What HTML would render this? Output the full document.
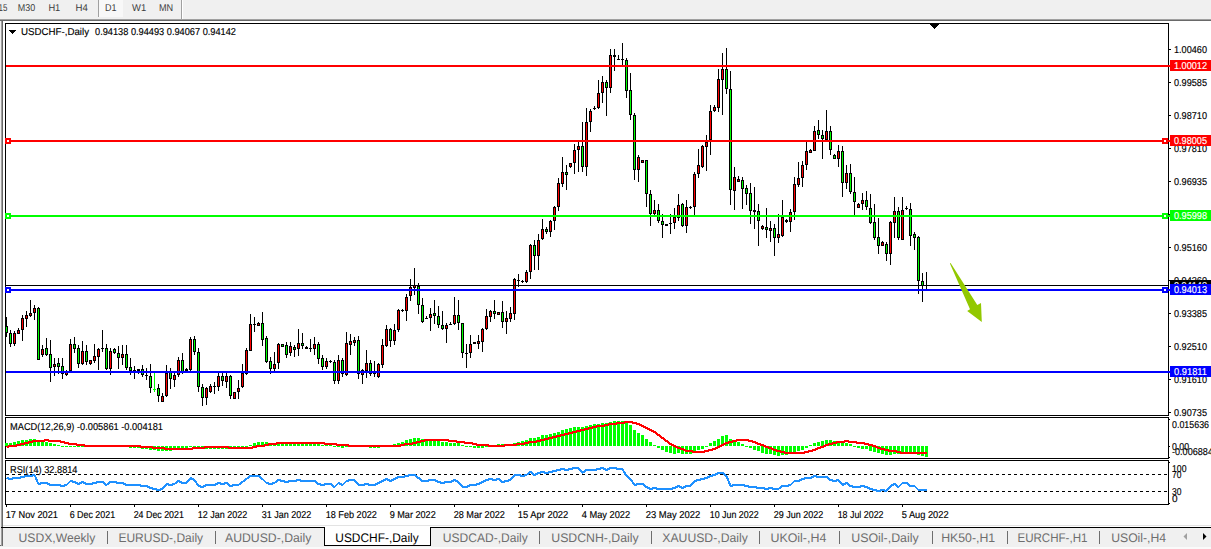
<!DOCTYPE html>
<html><head><meta charset="utf-8"><title>USDCHF Daily</title>
<style>
html,body{margin:0;padding:0;background:#fff;overflow:hidden}
svg{display:block;font-family:"Liberation Sans",sans-serif}
</style></head><body>
<svg width="1211" height="549" viewBox="0 0 1211 549" shape-rendering="crispEdges" text-rendering="geometricPrecision">
<rect x="0" y="0" width="1211" height="549" fill="#ffffff"/>
<rect x="0" y="0" width="1211" height="19" fill="#f0f0f0"/>
<rect x="0" y="19" width="1211" height="1" fill="#a0a0a0"/>
<rect x="0" y="20" width="1211" height="1" fill="#696969"/>
<rect x="99" y="0" width="24" height="17" fill="#f8f8f8"/>
<rect x="98" y="0" width="1" height="17" fill="#a0a0a0"/>
<rect x="181" y="0" width="1" height="19" fill="#a0a0a0"/>
<rect x="182" y="0" width="1" height="19" fill="#ffffff"/>
<text x="-1.5" y="11" font-size="10" fill="#3c3c3c" textLength="8.8" lengthAdjust="spacingAndGlyphs">15</text>
<text x="17.8" y="11" font-size="10" fill="#3c3c3c" textLength="17.4" lengthAdjust="spacingAndGlyphs">M30</text>
<text x="48.4" y="11" font-size="10" fill="#3c3c3c" textLength="11.9" lengthAdjust="spacingAndGlyphs">H1</text>
<text x="75.6" y="11" font-size="10" fill="#3c3c3c" textLength="12.3" lengthAdjust="spacingAndGlyphs">H4</text>
<text x="104.9" y="11" font-size="10" fill="#3c3c3c" textLength="11.5" lengthAdjust="spacingAndGlyphs">D1</text>
<text x="132.1" y="11" font-size="10" fill="#3c3c3c" textLength="14.1" lengthAdjust="spacingAndGlyphs">W1</text>
<text x="158.9" y="11" font-size="10" fill="#3c3c3c" textLength="14.2" lengthAdjust="spacingAndGlyphs">MN</text>
<rect x="0" y="21" width="1" height="525" fill="#f0f0f0"/>
<rect x="1" y="21" width="1" height="525" fill="#a0a0a0"/>
<rect x="2" y="21" width="1" height="525" fill="#696969"/>
<rect x="5" y="23" width="1164" height="1" fill="#000"/>
<rect x="5" y="415" width="1164" height="1" fill="#000"/>
<rect x="5" y="23" width="1" height="393" fill="#000"/>
<rect x="1168" y="23" width="1" height="393" fill="#000"/>
<rect x="5" y="417" width="1164" height="1" fill="#000"/>
<rect x="5" y="458" width="1164" height="1" fill="#000"/>
<rect x="5" y="417" width="1" height="42" fill="#000"/>
<rect x="1168" y="417" width="1" height="42" fill="#000"/>
<rect x="5" y="460" width="1164" height="1" fill="#000"/>
<rect x="5" y="504" width="1164" height="1" fill="#000"/>
<rect x="5" y="460" width="1" height="45" fill="#000"/>
<rect x="1168" y="460" width="1" height="45" fill="#000"/>
<rect x="6" y="317" width="1" height="20" fill="#000"/>
<rect x="5" y="326" width="3" height="7" fill="#000"/>
<rect x="6" y="327" width="1" height="5" fill="#00ff00"/>
<rect x="10" y="330" width="1" height="17" fill="#000"/>
<rect x="9" y="333" width="3" height="11" fill="#000"/>
<rect x="10" y="334" width="1" height="9" fill="#00ff00"/>
<rect x="14" y="331" width="1" height="15" fill="#000"/>
<rect x="13" y="333" width="3" height="11" fill="#000"/>
<rect x="14" y="334" width="1" height="9" fill="#ff0000"/>
<rect x="18" y="328" width="1" height="6" fill="#000"/>
<rect x="17" y="330" width="3" height="4" fill="#000"/>
<rect x="18" y="331" width="1" height="2" fill="#ff0000"/>
<rect x="22" y="315" width="1" height="26" fill="#000"/>
<rect x="21" y="318" width="3" height="12" fill="#000"/>
<rect x="22" y="319" width="1" height="10" fill="#ff0000"/>
<rect x="26" y="311" width="1" height="16" fill="#000"/>
<rect x="25" y="315" width="3" height="4" fill="#000"/>
<rect x="26" y="316" width="1" height="2" fill="#ff0000"/>
<rect x="30" y="300" width="1" height="17" fill="#000"/>
<rect x="29" y="313" width="3" height="3" fill="#000"/>
<rect x="30" y="314" width="1" height="1" fill="#ff0000"/>
<rect x="34" y="305" width="1" height="15" fill="#000"/>
<rect x="33" y="308" width="3" height="5" fill="#000"/>
<rect x="34" y="309" width="1" height="3" fill="#ff0000"/>
<rect x="38" y="307" width="1" height="53" fill="#000"/>
<rect x="37" y="308" width="3" height="52" fill="#000"/>
<rect x="38" y="309" width="1" height="50" fill="#00ff00"/>
<rect x="42" y="345" width="1" height="12" fill="#000"/>
<rect x="41" y="349" width="3" height="6" fill="#000"/>
<rect x="42" y="350" width="1" height="4" fill="#ff0000"/>
<rect x="46" y="338" width="1" height="18" fill="#000"/>
<rect x="45" y="348" width="3" height="7" fill="#000"/>
<rect x="46" y="349" width="1" height="5" fill="#00ff00"/>
<rect x="50" y="340" width="1" height="42" fill="#000"/>
<rect x="49" y="354" width="3" height="14" fill="#000"/>
<rect x="50" y="355" width="1" height="12" fill="#00ff00"/>
<rect x="54" y="358" width="1" height="18" fill="#000"/>
<rect x="53" y="364" width="3" height="3" fill="#000"/>
<rect x="54" y="365" width="1" height="1" fill="#ff0000"/>
<rect x="58" y="358" width="1" height="16" fill="#000"/>
<rect x="57" y="363" width="3" height="4" fill="#000"/>
<rect x="58" y="364" width="1" height="2" fill="#00ff00"/>
<rect x="62" y="358" width="1" height="21" fill="#000"/>
<rect x="61" y="366" width="3" height="8" fill="#000"/>
<rect x="62" y="367" width="1" height="6" fill="#00ff00"/>
<rect x="66" y="370" width="1" height="6" fill="#000"/>
<rect x="65" y="371" width="3" height="4" fill="#000"/>
<rect x="66" y="372" width="1" height="2" fill="#ff0000"/>
<rect x="70" y="339" width="1" height="32" fill="#000"/>
<rect x="69" y="344" width="3" height="27" fill="#000"/>
<rect x="70" y="345" width="1" height="25" fill="#ff0000"/>
<rect x="74" y="337" width="1" height="16" fill="#000"/>
<rect x="73" y="344" width="3" height="5" fill="#000"/>
<rect x="74" y="345" width="1" height="3" fill="#00ff00"/>
<rect x="78" y="345" width="1" height="23" fill="#000"/>
<rect x="77" y="348" width="3" height="16" fill="#000"/>
<rect x="78" y="349" width="1" height="14" fill="#00ff00"/>
<rect x="82" y="341" width="1" height="24" fill="#000"/>
<rect x="81" y="351" width="3" height="13" fill="#000"/>
<rect x="82" y="352" width="1" height="11" fill="#ff0000"/>
<rect x="86" y="345" width="1" height="20" fill="#000"/>
<rect x="85" y="351" width="3" height="11" fill="#000"/>
<rect x="86" y="352" width="1" height="9" fill="#00ff00"/>
<rect x="90" y="360" width="1" height="5" fill="#000"/>
<rect x="89" y="360" width="3" height="4" fill="#000"/>
<rect x="90" y="361" width="1" height="2" fill="#ff0000"/>
<rect x="94" y="344" width="1" height="19" fill="#000"/>
<rect x="93" y="356" width="3" height="5" fill="#000"/>
<rect x="94" y="357" width="1" height="3" fill="#ff0000"/>
<rect x="98" y="348" width="1" height="22" fill="#000"/>
<rect x="97" y="349" width="3" height="8" fill="#000"/>
<rect x="98" y="350" width="1" height="6" fill="#ff0000"/>
<rect x="102" y="330" width="1" height="22" fill="#000"/>
<rect x="101" y="348" width="3" height="1" fill="#000"/>
<rect x="106" y="344" width="1" height="26" fill="#000"/>
<rect x="105" y="348" width="3" height="21" fill="#000"/>
<rect x="106" y="349" width="1" height="19" fill="#00ff00"/>
<rect x="110" y="348" width="1" height="27" fill="#000"/>
<rect x="109" y="351" width="3" height="18" fill="#000"/>
<rect x="110" y="352" width="1" height="16" fill="#ff0000"/>
<rect x="114" y="348" width="1" height="6" fill="#000"/>
<rect x="113" y="349" width="3" height="4" fill="#000"/>
<rect x="114" y="350" width="1" height="2" fill="#00ff00"/>
<rect x="118" y="346" width="1" height="23" fill="#000"/>
<rect x="117" y="353" width="3" height="5" fill="#000"/>
<rect x="118" y="354" width="1" height="3" fill="#00ff00"/>
<rect x="122" y="345" width="1" height="20" fill="#000"/>
<rect x="121" y="354" width="3" height="4" fill="#000"/>
<rect x="122" y="355" width="1" height="2" fill="#ff0000"/>
<rect x="126" y="345" width="1" height="25" fill="#000"/>
<rect x="125" y="354" width="3" height="14" fill="#000"/>
<rect x="126" y="355" width="1" height="12" fill="#00ff00"/>
<rect x="130" y="358" width="1" height="17" fill="#000"/>
<rect x="129" y="367" width="3" height="4" fill="#000"/>
<rect x="130" y="368" width="1" height="2" fill="#00ff00"/>
<rect x="134" y="366" width="1" height="13" fill="#000"/>
<rect x="133" y="370" width="3" height="1" fill="#000"/>
<rect x="138" y="369" width="1" height="5" fill="#000"/>
<rect x="137" y="369" width="3" height="2" fill="#000"/>
<rect x="142" y="365" width="1" height="12" fill="#000"/>
<rect x="141" y="369" width="3" height="6" fill="#000"/>
<rect x="142" y="370" width="1" height="4" fill="#00ff00"/>
<rect x="146" y="368" width="1" height="12" fill="#000"/>
<rect x="145" y="375" width="3" height="1" fill="#000"/>
<rect x="150" y="364" width="1" height="29" fill="#000"/>
<rect x="149" y="376" width="3" height="12" fill="#000"/>
<rect x="150" y="377" width="1" height="10" fill="#00ff00"/>
<rect x="154" y="373" width="1" height="19" fill="#00ff00"/>
<rect x="153" y="389" width="3" height="1" fill="#00ff00"/>
<rect x="158" y="384" width="1" height="18" fill="#000"/>
<rect x="157" y="388" width="3" height="8" fill="#000"/>
<rect x="158" y="389" width="1" height="6" fill="#00ff00"/>
<rect x="162" y="393" width="1" height="9" fill="#000"/>
<rect x="161" y="396" width="3" height="6" fill="#000"/>
<rect x="162" y="397" width="1" height="4" fill="#ff0000"/>
<rect x="166" y="365" width="1" height="32" fill="#000"/>
<rect x="165" y="373" width="3" height="23" fill="#000"/>
<rect x="166" y="374" width="1" height="21" fill="#ff0000"/>
<rect x="170" y="368" width="1" height="21" fill="#000"/>
<rect x="169" y="372" width="3" height="7" fill="#000"/>
<rect x="170" y="373" width="1" height="5" fill="#00ff00"/>
<rect x="174" y="372" width="1" height="15" fill="#000"/>
<rect x="173" y="375" width="3" height="5" fill="#000"/>
<rect x="174" y="376" width="1" height="3" fill="#ff0000"/>
<rect x="178" y="357" width="1" height="20" fill="#000"/>
<rect x="177" y="360" width="3" height="15" fill="#000"/>
<rect x="178" y="361" width="1" height="13" fill="#ff0000"/>
<rect x="182" y="353" width="1" height="21" fill="#000"/>
<rect x="181" y="360" width="3" height="12" fill="#000"/>
<rect x="182" y="361" width="1" height="10" fill="#00ff00"/>
<rect x="186" y="368" width="1" height="4" fill="#000"/>
<rect x="185" y="369" width="3" height="2" fill="#000"/>
<rect x="190" y="337" width="1" height="34" fill="#000"/>
<rect x="189" y="339" width="3" height="31" fill="#000"/>
<rect x="190" y="340" width="1" height="29" fill="#ff0000"/>
<rect x="194" y="336" width="1" height="19" fill="#000"/>
<rect x="193" y="339" width="3" height="13" fill="#000"/>
<rect x="194" y="340" width="1" height="11" fill="#00ff00"/>
<rect x="198" y="348" width="1" height="44" fill="#000"/>
<rect x="197" y="352" width="3" height="35" fill="#000"/>
<rect x="198" y="353" width="1" height="33" fill="#00ff00"/>
<rect x="202" y="384" width="1" height="22" fill="#000"/>
<rect x="201" y="387" width="3" height="11" fill="#000"/>
<rect x="202" y="388" width="1" height="9" fill="#00ff00"/>
<rect x="206" y="387" width="1" height="18" fill="#000"/>
<rect x="205" y="388" width="3" height="10" fill="#000"/>
<rect x="206" y="389" width="1" height="8" fill="#ff0000"/>
<rect x="210" y="384" width="1" height="9" fill="#000"/>
<rect x="209" y="386" width="3" height="6" fill="#000"/>
<rect x="210" y="387" width="1" height="4" fill="#ff0000"/>
<rect x="214" y="382" width="1" height="12" fill="#000"/>
<rect x="213" y="386" width="3" height="1" fill="#000"/>
<rect x="218" y="372" width="1" height="19" fill="#000"/>
<rect x="217" y="376" width="3" height="11" fill="#000"/>
<rect x="218" y="377" width="1" height="9" fill="#ff0000"/>
<rect x="222" y="373" width="1" height="13" fill="#000"/>
<rect x="221" y="376" width="3" height="5" fill="#000"/>
<rect x="222" y="377" width="1" height="3" fill="#00ff00"/>
<rect x="226" y="373" width="1" height="15" fill="#000"/>
<rect x="225" y="376" width="3" height="6" fill="#000"/>
<rect x="226" y="377" width="1" height="4" fill="#ff0000"/>
<rect x="230" y="375" width="1" height="24" fill="#000"/>
<rect x="229" y="376" width="3" height="20" fill="#000"/>
<rect x="230" y="377" width="1" height="18" fill="#00ff00"/>
<rect x="234" y="392" width="1" height="7" fill="#000"/>
<rect x="233" y="392" width="3" height="7" fill="#000"/>
<rect x="234" y="393" width="1" height="5" fill="#ff0000"/>
<rect x="238" y="380" width="1" height="19" fill="#000"/>
<rect x="237" y="388" width="3" height="4" fill="#000"/>
<rect x="238" y="389" width="1" height="2" fill="#ff0000"/>
<rect x="242" y="364" width="1" height="24" fill="#000"/>
<rect x="241" y="373" width="3" height="14" fill="#000"/>
<rect x="242" y="374" width="1" height="12" fill="#ff0000"/>
<rect x="246" y="348" width="1" height="27" fill="#000"/>
<rect x="245" y="350" width="3" height="24" fill="#000"/>
<rect x="246" y="351" width="1" height="22" fill="#ff0000"/>
<rect x="250" y="314" width="1" height="37" fill="#000"/>
<rect x="249" y="324" width="3" height="27" fill="#000"/>
<rect x="250" y="325" width="1" height="25" fill="#ff0000"/>
<rect x="254" y="317" width="1" height="15" fill="#000"/>
<rect x="253" y="324" width="3" height="1" fill="#000"/>
<rect x="258" y="322" width="1" height="4" fill="#000"/>
<rect x="257" y="323" width="3" height="3" fill="#000"/>
<rect x="258" y="324" width="1" height="1" fill="#ff0000"/>
<rect x="262" y="312" width="1" height="34" fill="#000"/>
<rect x="261" y="323" width="3" height="17" fill="#000"/>
<rect x="262" y="324" width="1" height="15" fill="#00ff00"/>
<rect x="266" y="336" width="1" height="27" fill="#000"/>
<rect x="265" y="338" width="3" height="24" fill="#000"/>
<rect x="266" y="339" width="1" height="22" fill="#00ff00"/>
<rect x="270" y="357" width="1" height="17" fill="#000"/>
<rect x="269" y="361" width="3" height="8" fill="#000"/>
<rect x="270" y="362" width="1" height="6" fill="#00ff00"/>
<rect x="274" y="352" width="1" height="21" fill="#000"/>
<rect x="273" y="364" width="3" height="5" fill="#000"/>
<rect x="274" y="365" width="1" height="3" fill="#ff0000"/>
<rect x="278" y="343" width="1" height="26" fill="#000"/>
<rect x="277" y="344" width="3" height="19" fill="#000"/>
<rect x="278" y="345" width="1" height="17" fill="#ff0000"/>
<rect x="282" y="344" width="1" height="3" fill="#000"/>
<rect x="281" y="344" width="3" height="3" fill="#000"/>
<rect x="282" y="345" width="1" height="1" fill="#00ff00"/>
<rect x="286" y="342" width="1" height="16" fill="#000"/>
<rect x="285" y="345" width="3" height="10" fill="#000"/>
<rect x="286" y="346" width="1" height="8" fill="#00ff00"/>
<rect x="290" y="342" width="1" height="14" fill="#000"/>
<rect x="289" y="346" width="3" height="7" fill="#000"/>
<rect x="290" y="347" width="1" height="5" fill="#ff0000"/>
<rect x="294" y="345" width="1" height="12" fill="#000"/>
<rect x="293" y="347" width="3" height="3" fill="#000"/>
<rect x="294" y="348" width="1" height="1" fill="#00ff00"/>
<rect x="298" y="329" width="1" height="27" fill="#000"/>
<rect x="297" y="343" width="3" height="6" fill="#000"/>
<rect x="298" y="344" width="1" height="4" fill="#ff0000"/>
<rect x="302" y="333" width="1" height="16" fill="#000"/>
<rect x="301" y="343" width="3" height="3" fill="#000"/>
<rect x="302" y="344" width="1" height="1" fill="#00ff00"/>
<rect x="306" y="346" width="1" height="3" fill="#000"/>
<rect x="305" y="347" width="3" height="2" fill="#000"/>
<rect x="310" y="339" width="1" height="13" fill="#000"/>
<rect x="309" y="348" width="3" height="1" fill="#000"/>
<rect x="314" y="337" width="1" height="18" fill="#000"/>
<rect x="313" y="344" width="3" height="5" fill="#000"/>
<rect x="314" y="345" width="1" height="3" fill="#ff0000"/>
<rect x="318" y="342" width="1" height="22" fill="#000"/>
<rect x="317" y="344" width="3" height="15" fill="#000"/>
<rect x="318" y="345" width="1" height="13" fill="#00ff00"/>
<rect x="322" y="355" width="1" height="15" fill="#000"/>
<rect x="321" y="358" width="3" height="9" fill="#000"/>
<rect x="322" y="359" width="1" height="7" fill="#00ff00"/>
<rect x="326" y="358" width="1" height="11" fill="#000"/>
<rect x="325" y="361" width="3" height="6" fill="#000"/>
<rect x="326" y="362" width="1" height="4" fill="#ff0000"/>
<rect x="330" y="360" width="1" height="3" fill="#000"/>
<rect x="329" y="361" width="3" height="1" fill="#000"/>
<rect x="334" y="360" width="1" height="24" fill="#000"/>
<rect x="333" y="362" width="3" height="19" fill="#000"/>
<rect x="334" y="363" width="1" height="17" fill="#00ff00"/>
<rect x="338" y="355" width="1" height="29" fill="#000"/>
<rect x="337" y="360" width="3" height="21" fill="#000"/>
<rect x="338" y="361" width="1" height="19" fill="#ff0000"/>
<rect x="342" y="358" width="1" height="19" fill="#000"/>
<rect x="341" y="360" width="3" height="14" fill="#000"/>
<rect x="342" y="361" width="1" height="12" fill="#00ff00"/>
<rect x="346" y="332" width="1" height="44" fill="#000"/>
<rect x="345" y="343" width="3" height="32" fill="#000"/>
<rect x="346" y="344" width="1" height="30" fill="#ff0000"/>
<rect x="350" y="334" width="1" height="21" fill="#000"/>
<rect x="349" y="341" width="3" height="4" fill="#000"/>
<rect x="350" y="342" width="1" height="2" fill="#ff0000"/>
<rect x="354" y="337" width="1" height="9" fill="#000"/>
<rect x="353" y="340" width="3" height="3" fill="#000"/>
<rect x="354" y="341" width="1" height="1" fill="#ff0000"/>
<rect x="358" y="336" width="1" height="43" fill="#000"/>
<rect x="357" y="340" width="3" height="34" fill="#000"/>
<rect x="358" y="341" width="1" height="32" fill="#00ff00"/>
<rect x="362" y="369" width="1" height="15" fill="#000"/>
<rect x="361" y="370" width="3" height="5" fill="#000"/>
<rect x="362" y="371" width="1" height="3" fill="#ff0000"/>
<rect x="366" y="350" width="1" height="28" fill="#000"/>
<rect x="365" y="363" width="3" height="8" fill="#000"/>
<rect x="366" y="364" width="1" height="6" fill="#ff0000"/>
<rect x="370" y="360" width="1" height="16" fill="#000"/>
<rect x="369" y="363" width="3" height="11" fill="#000"/>
<rect x="370" y="364" width="1" height="9" fill="#00ff00"/>
<rect x="374" y="361" width="1" height="16" fill="#000"/>
<rect x="373" y="373" width="3" height="1" fill="#000"/>
<rect x="378" y="363" width="1" height="15" fill="#000"/>
<rect x="377" y="364" width="3" height="13" fill="#000"/>
<rect x="378" y="365" width="1" height="11" fill="#ff0000"/>
<rect x="382" y="339" width="1" height="29" fill="#000"/>
<rect x="381" y="345" width="3" height="20" fill="#000"/>
<rect x="382" y="346" width="1" height="18" fill="#ff0000"/>
<rect x="386" y="325" width="1" height="22" fill="#000"/>
<rect x="385" y="329" width="3" height="17" fill="#000"/>
<rect x="386" y="330" width="1" height="15" fill="#ff0000"/>
<rect x="390" y="328" width="1" height="19" fill="#000"/>
<rect x="389" y="329" width="3" height="12" fill="#000"/>
<rect x="390" y="330" width="1" height="10" fill="#00ff00"/>
<rect x="394" y="324" width="1" height="21" fill="#000"/>
<rect x="393" y="330" width="3" height="11" fill="#000"/>
<rect x="394" y="331" width="1" height="9" fill="#ff0000"/>
<rect x="398" y="309" width="1" height="23" fill="#000"/>
<rect x="397" y="310" width="3" height="20" fill="#000"/>
<rect x="398" y="311" width="1" height="18" fill="#ff0000"/>
<rect x="402" y="309" width="1" height="3" fill="#000"/>
<rect x="401" y="310" width="3" height="1" fill="#000"/>
<rect x="406" y="294" width="1" height="27" fill="#000"/>
<rect x="405" y="297" width="3" height="14" fill="#000"/>
<rect x="406" y="298" width="1" height="12" fill="#ff0000"/>
<rect x="410" y="279" width="1" height="22" fill="#000"/>
<rect x="409" y="287" width="3" height="9" fill="#000"/>
<rect x="410" y="288" width="1" height="7" fill="#ff0000"/>
<rect x="414" y="268" width="1" height="27" fill="#000"/>
<rect x="413" y="285" width="3" height="3" fill="#000"/>
<rect x="414" y="286" width="1" height="1" fill="#ff0000"/>
<rect x="418" y="283" width="1" height="31" fill="#000"/>
<rect x="417" y="286" width="3" height="19" fill="#000"/>
<rect x="418" y="287" width="1" height="17" fill="#00ff00"/>
<rect x="422" y="298" width="1" height="25" fill="#000"/>
<rect x="421" y="305" width="3" height="17" fill="#000"/>
<rect x="422" y="306" width="1" height="15" fill="#00ff00"/>
<rect x="426" y="316" width="1" height="3" fill="#000"/>
<rect x="425" y="318" width="3" height="1" fill="#000"/>
<rect x="430" y="308" width="1" height="23" fill="#000"/>
<rect x="429" y="314" width="3" height="4" fill="#000"/>
<rect x="430" y="315" width="1" height="2" fill="#ff0000"/>
<rect x="434" y="300" width="1" height="24" fill="#000"/>
<rect x="433" y="313" width="3" height="3" fill="#000"/>
<rect x="434" y="314" width="1" height="1" fill="#00ff00"/>
<rect x="438" y="306" width="1" height="22" fill="#000"/>
<rect x="437" y="316" width="3" height="9" fill="#000"/>
<rect x="438" y="317" width="1" height="7" fill="#00ff00"/>
<rect x="442" y="311" width="1" height="19" fill="#000"/>
<rect x="441" y="325" width="3" height="4" fill="#000"/>
<rect x="442" y="326" width="1" height="2" fill="#00ff00"/>
<rect x="446" y="323" width="1" height="20" fill="#000"/>
<rect x="445" y="325" width="3" height="4" fill="#000"/>
<rect x="446" y="326" width="1" height="2" fill="#ff0000"/>
<rect x="450" y="322" width="1" height="3" fill="#000"/>
<rect x="449" y="324" width="3" height="1" fill="#000"/>
<rect x="454" y="297" width="1" height="28" fill="#000"/>
<rect x="453" y="315" width="3" height="9" fill="#000"/>
<rect x="454" y="316" width="1" height="7" fill="#ff0000"/>
<rect x="458" y="300" width="1" height="30" fill="#000"/>
<rect x="457" y="315" width="3" height="8" fill="#000"/>
<rect x="458" y="316" width="1" height="6" fill="#00ff00"/>
<rect x="462" y="323" width="1" height="35" fill="#000"/>
<rect x="461" y="323" width="3" height="30" fill="#000"/>
<rect x="462" y="324" width="1" height="28" fill="#00ff00"/>
<rect x="466" y="344" width="1" height="24" fill="#000"/>
<rect x="465" y="353" width="3" height="1" fill="#000"/>
<rect x="470" y="335" width="1" height="23" fill="#000"/>
<rect x="469" y="344" width="3" height="9" fill="#000"/>
<rect x="470" y="345" width="1" height="7" fill="#ff0000"/>
<rect x="474" y="342" width="1" height="2" fill="#000"/>
<rect x="473" y="342" width="3" height="2" fill="#000"/>
<rect x="478" y="335" width="1" height="14" fill="#000"/>
<rect x="477" y="341" width="3" height="3" fill="#000"/>
<rect x="478" y="342" width="1" height="1" fill="#ff0000"/>
<rect x="482" y="328" width="1" height="24" fill="#000"/>
<rect x="481" y="329" width="3" height="13" fill="#000"/>
<rect x="482" y="330" width="1" height="11" fill="#ff0000"/>
<rect x="486" y="309" width="1" height="21" fill="#000"/>
<rect x="485" y="316" width="3" height="13" fill="#000"/>
<rect x="486" y="317" width="1" height="11" fill="#ff0000"/>
<rect x="490" y="310" width="1" height="12" fill="#000"/>
<rect x="489" y="311" width="3" height="6" fill="#000"/>
<rect x="490" y="312" width="1" height="4" fill="#ff0000"/>
<rect x="494" y="300" width="1" height="19" fill="#000"/>
<rect x="493" y="311" width="3" height="3" fill="#000"/>
<rect x="494" y="312" width="1" height="1" fill="#00ff00"/>
<rect x="498" y="312" width="1" height="3" fill="#000"/>
<rect x="497" y="312" width="3" height="3" fill="#000"/>
<rect x="498" y="313" width="1" height="1" fill="#ff0000"/>
<rect x="502" y="301" width="1" height="27" fill="#000"/>
<rect x="501" y="312" width="3" height="10" fill="#000"/>
<rect x="502" y="313" width="1" height="8" fill="#00ff00"/>
<rect x="506" y="311" width="1" height="23" fill="#000"/>
<rect x="505" y="318" width="3" height="4" fill="#000"/>
<rect x="506" y="319" width="1" height="2" fill="#ff0000"/>
<rect x="510" y="307" width="1" height="15" fill="#000"/>
<rect x="509" y="313" width="3" height="6" fill="#000"/>
<rect x="510" y="314" width="1" height="4" fill="#ff0000"/>
<rect x="514" y="278" width="1" height="42" fill="#000"/>
<rect x="513" y="279" width="3" height="35" fill="#000"/>
<rect x="514" y="280" width="1" height="33" fill="#ff0000"/>
<rect x="518" y="274" width="1" height="13" fill="#000"/>
<rect x="517" y="280" width="3" height="1" fill="#000"/>
<rect x="522" y="280" width="1" height="3" fill="#000"/>
<rect x="521" y="281" width="3" height="1" fill="#000"/>
<rect x="526" y="270" width="1" height="13" fill="#000"/>
<rect x="525" y="272" width="3" height="10" fill="#000"/>
<rect x="526" y="273" width="1" height="8" fill="#ff0000"/>
<rect x="530" y="244" width="1" height="35" fill="#000"/>
<rect x="529" y="245" width="3" height="27" fill="#000"/>
<rect x="530" y="246" width="1" height="25" fill="#ff0000"/>
<rect x="534" y="240" width="1" height="30" fill="#000"/>
<rect x="533" y="245" width="3" height="11" fill="#000"/>
<rect x="534" y="246" width="1" height="9" fill="#00ff00"/>
<rect x="538" y="234" width="1" height="36" fill="#000"/>
<rect x="537" y="240" width="3" height="16" fill="#000"/>
<rect x="538" y="241" width="1" height="14" fill="#ff0000"/>
<rect x="542" y="219" width="1" height="21" fill="#000"/>
<rect x="541" y="229" width="3" height="10" fill="#000"/>
<rect x="542" y="230" width="1" height="8" fill="#ff0000"/>
<rect x="546" y="227" width="1" height="7" fill="#000"/>
<rect x="545" y="229" width="3" height="3" fill="#000"/>
<rect x="546" y="230" width="1" height="1" fill="#00ff00"/>
<rect x="550" y="220" width="1" height="17" fill="#000"/>
<rect x="549" y="221" width="3" height="11" fill="#000"/>
<rect x="550" y="222" width="1" height="9" fill="#ff0000"/>
<rect x="554" y="206" width="1" height="24" fill="#000"/>
<rect x="553" y="207" width="3" height="14" fill="#000"/>
<rect x="554" y="208" width="1" height="12" fill="#ff0000"/>
<rect x="558" y="178" width="1" height="33" fill="#000"/>
<rect x="557" y="183" width="3" height="24" fill="#000"/>
<rect x="558" y="184" width="1" height="22" fill="#ff0000"/>
<rect x="562" y="157" width="1" height="30" fill="#000"/>
<rect x="561" y="172" width="3" height="12" fill="#000"/>
<rect x="562" y="173" width="1" height="10" fill="#ff0000"/>
<rect x="566" y="165" width="1" height="25" fill="#000"/>
<rect x="565" y="172" width="3" height="3" fill="#000"/>
<rect x="566" y="173" width="1" height="1" fill="#00ff00"/>
<rect x="570" y="163" width="1" height="5" fill="#000"/>
<rect x="569" y="163" width="3" height="4" fill="#000"/>
<rect x="570" y="164" width="1" height="2" fill="#ff0000"/>
<rect x="574" y="144" width="1" height="30" fill="#000"/>
<rect x="573" y="150" width="3" height="13" fill="#000"/>
<rect x="574" y="151" width="1" height="11" fill="#ff0000"/>
<rect x="578" y="142" width="1" height="30" fill="#000"/>
<rect x="577" y="146" width="3" height="4" fill="#000"/>
<rect x="578" y="147" width="1" height="2" fill="#ff0000"/>
<rect x="582" y="122" width="1" height="50" fill="#000"/>
<rect x="581" y="146" width="3" height="21" fill="#000"/>
<rect x="582" y="147" width="1" height="19" fill="#00ff00"/>
<rect x="586" y="108" width="1" height="68" fill="#000"/>
<rect x="585" y="122" width="3" height="45" fill="#000"/>
<rect x="586" y="123" width="1" height="43" fill="#ff0000"/>
<rect x="590" y="109" width="1" height="23" fill="#000"/>
<rect x="589" y="111" width="3" height="11" fill="#000"/>
<rect x="590" y="112" width="1" height="9" fill="#ff0000"/>
<rect x="594" y="106" width="1" height="4" fill="#000"/>
<rect x="593" y="108" width="3" height="1" fill="#000"/>
<rect x="598" y="80" width="1" height="29" fill="#000"/>
<rect x="597" y="93" width="3" height="15" fill="#000"/>
<rect x="598" y="94" width="1" height="13" fill="#ff0000"/>
<rect x="602" y="76" width="1" height="27" fill="#000"/>
<rect x="601" y="82" width="3" height="11" fill="#000"/>
<rect x="602" y="83" width="1" height="9" fill="#ff0000"/>
<rect x="606" y="80" width="1" height="36" fill="#000"/>
<rect x="605" y="82" width="3" height="6" fill="#000"/>
<rect x="606" y="83" width="1" height="4" fill="#00ff00"/>
<rect x="610" y="49" width="1" height="44" fill="#000"/>
<rect x="609" y="55" width="3" height="33" fill="#000"/>
<rect x="610" y="56" width="1" height="31" fill="#ff0000"/>
<rect x="614" y="49" width="1" height="22" fill="#000"/>
<rect x="613" y="55" width="3" height="2" fill="#000"/>
<rect x="618" y="55" width="1" height="5" fill="#000"/>
<rect x="617" y="59" width="3" height="1" fill="#000"/>
<rect x="622" y="43" width="1" height="22" fill="#000"/>
<rect x="621" y="59" width="3" height="1" fill="#000"/>
<rect x="626" y="58" width="1" height="40" fill="#000"/>
<rect x="625" y="60" width="3" height="31" fill="#000"/>
<rect x="626" y="61" width="1" height="29" fill="#00ff00"/>
<rect x="630" y="73" width="1" height="47" fill="#000"/>
<rect x="629" y="90" width="3" height="25" fill="#000"/>
<rect x="630" y="91" width="1" height="23" fill="#00ff00"/>
<rect x="634" y="113" width="1" height="67" fill="#000"/>
<rect x="633" y="115" width="3" height="55" fill="#000"/>
<rect x="634" y="116" width="1" height="53" fill="#00ff00"/>
<rect x="638" y="155" width="1" height="27" fill="#000"/>
<rect x="637" y="157" width="3" height="13" fill="#000"/>
<rect x="638" y="158" width="1" height="11" fill="#ff0000"/>
<rect x="642" y="160" width="1" height="3" fill="#000"/>
<rect x="641" y="160" width="3" height="3" fill="#000"/>
<rect x="642" y="161" width="1" height="1" fill="#ff0000"/>
<rect x="646" y="160" width="1" height="47" fill="#000"/>
<rect x="645" y="160" width="3" height="34" fill="#000"/>
<rect x="646" y="161" width="1" height="32" fill="#00ff00"/>
<rect x="650" y="190" width="1" height="36" fill="#000"/>
<rect x="649" y="194" width="3" height="20" fill="#000"/>
<rect x="650" y="195" width="1" height="18" fill="#00ff00"/>
<rect x="654" y="200" width="1" height="15" fill="#000"/>
<rect x="653" y="210" width="3" height="4" fill="#000"/>
<rect x="654" y="211" width="1" height="2" fill="#ff0000"/>
<rect x="658" y="204" width="1" height="19" fill="#000"/>
<rect x="657" y="210" width="3" height="11" fill="#000"/>
<rect x="658" y="211" width="1" height="9" fill="#00ff00"/>
<rect x="662" y="214" width="1" height="24" fill="#000"/>
<rect x="661" y="221" width="3" height="4" fill="#000"/>
<rect x="662" y="222" width="1" height="2" fill="#00ff00"/>
<rect x="666" y="224" width="1" height="2" fill="#000"/>
<rect x="665" y="224" width="3" height="2" fill="#000"/>
<rect x="670" y="214" width="1" height="20" fill="#000"/>
<rect x="669" y="223" width="3" height="1" fill="#000"/>
<rect x="674" y="208" width="1" height="21" fill="#000"/>
<rect x="673" y="217" width="3" height="6" fill="#000"/>
<rect x="674" y="218" width="1" height="4" fill="#ff0000"/>
<rect x="678" y="194" width="1" height="27" fill="#000"/>
<rect x="677" y="205" width="3" height="13" fill="#000"/>
<rect x="678" y="206" width="1" height="11" fill="#ff0000"/>
<rect x="682" y="203" width="1" height="24" fill="#000"/>
<rect x="681" y="204" width="3" height="22" fill="#000"/>
<rect x="682" y="205" width="1" height="20" fill="#00ff00"/>
<rect x="686" y="200" width="1" height="33" fill="#000"/>
<rect x="685" y="207" width="3" height="19" fill="#000"/>
<rect x="686" y="208" width="1" height="17" fill="#ff0000"/>
<rect x="690" y="206" width="1" height="3" fill="#000"/>
<rect x="689" y="207" width="3" height="1" fill="#000"/>
<rect x="694" y="172" width="1" height="43" fill="#000"/>
<rect x="693" y="174" width="3" height="33" fill="#000"/>
<rect x="694" y="175" width="1" height="31" fill="#ff0000"/>
<rect x="698" y="149" width="1" height="29" fill="#000"/>
<rect x="697" y="165" width="3" height="9" fill="#000"/>
<rect x="698" y="166" width="1" height="7" fill="#ff0000"/>
<rect x="702" y="145" width="1" height="23" fill="#000"/>
<rect x="701" y="146" width="3" height="21" fill="#000"/>
<rect x="702" y="147" width="1" height="19" fill="#ff0000"/>
<rect x="706" y="135" width="1" height="36" fill="#000"/>
<rect x="705" y="142" width="3" height="5" fill="#000"/>
<rect x="706" y="143" width="1" height="3" fill="#ff0000"/>
<rect x="710" y="105" width="1" height="50" fill="#000"/>
<rect x="709" y="111" width="3" height="29" fill="#000"/>
<rect x="710" y="112" width="1" height="27" fill="#ff0000"/>
<rect x="714" y="105" width="1" height="7" fill="#000"/>
<rect x="713" y="107" width="3" height="4" fill="#000"/>
<rect x="714" y="108" width="1" height="2" fill="#ff0000"/>
<rect x="718" y="69" width="1" height="43" fill="#000"/>
<rect x="717" y="79" width="3" height="29" fill="#000"/>
<rect x="718" y="80" width="1" height="27" fill="#ff0000"/>
<rect x="722" y="53" width="1" height="62" fill="#000"/>
<rect x="721" y="69" width="3" height="11" fill="#000"/>
<rect x="722" y="70" width="1" height="9" fill="#ff0000"/>
<rect x="726" y="48" width="1" height="46" fill="#000"/>
<rect x="725" y="69" width="3" height="20" fill="#000"/>
<rect x="726" y="70" width="1" height="18" fill="#00ff00"/>
<rect x="730" y="71" width="1" height="134" fill="#000"/>
<rect x="729" y="89" width="3" height="101" fill="#000"/>
<rect x="730" y="90" width="1" height="99" fill="#00ff00"/>
<rect x="734" y="167" width="1" height="43" fill="#000"/>
<rect x="733" y="177" width="3" height="14" fill="#000"/>
<rect x="734" y="178" width="1" height="12" fill="#ff0000"/>
<rect x="738" y="176" width="1" height="6" fill="#000"/>
<rect x="737" y="179" width="3" height="3" fill="#000"/>
<rect x="738" y="180" width="1" height="1" fill="#ff0000"/>
<rect x="742" y="177" width="1" height="32" fill="#000"/>
<rect x="741" y="180" width="3" height="9" fill="#000"/>
<rect x="742" y="181" width="1" height="7" fill="#00ff00"/>
<rect x="746" y="185" width="1" height="20" fill="#000"/>
<rect x="745" y="188" width="3" height="6" fill="#000"/>
<rect x="746" y="189" width="1" height="4" fill="#00ff00"/>
<rect x="750" y="183" width="1" height="41" fill="#000"/>
<rect x="749" y="193" width="3" height="18" fill="#000"/>
<rect x="750" y="194" width="1" height="16" fill="#00ff00"/>
<rect x="754" y="187" width="1" height="42" fill="#000"/>
<rect x="753" y="210" width="3" height="2" fill="#000"/>
<rect x="758" y="204" width="1" height="42" fill="#000"/>
<rect x="757" y="211" width="3" height="10" fill="#000"/>
<rect x="758" y="212" width="1" height="8" fill="#00ff00"/>
<rect x="762" y="225" width="1" height="5" fill="#000"/>
<rect x="761" y="226" width="3" height="3" fill="#000"/>
<rect x="762" y="227" width="1" height="1" fill="#ff0000"/>
<rect x="766" y="208" width="1" height="30" fill="#000"/>
<rect x="765" y="227" width="3" height="3" fill="#000"/>
<rect x="766" y="228" width="1" height="1" fill="#00ff00"/>
<rect x="770" y="221" width="1" height="21" fill="#000"/>
<rect x="769" y="228" width="3" height="3" fill="#000"/>
<rect x="770" y="229" width="1" height="1" fill="#ff0000"/>
<rect x="774" y="224" width="1" height="32" fill="#000"/>
<rect x="773" y="228" width="3" height="10" fill="#000"/>
<rect x="774" y="229" width="1" height="8" fill="#00ff00"/>
<rect x="778" y="214" width="1" height="29" fill="#000"/>
<rect x="777" y="234" width="3" height="4" fill="#000"/>
<rect x="778" y="235" width="1" height="2" fill="#ff0000"/>
<rect x="782" y="200" width="1" height="37" fill="#000"/>
<rect x="781" y="217" width="3" height="19" fill="#000"/>
<rect x="782" y="218" width="1" height="17" fill="#ff0000"/>
<rect x="786" y="219" width="1" height="4" fill="#000"/>
<rect x="785" y="220" width="3" height="2" fill="#000"/>
<rect x="790" y="209" width="1" height="23" fill="#000"/>
<rect x="789" y="212" width="3" height="10" fill="#000"/>
<rect x="790" y="213" width="1" height="8" fill="#ff0000"/>
<rect x="794" y="177" width="1" height="43" fill="#000"/>
<rect x="793" y="184" width="3" height="28" fill="#000"/>
<rect x="794" y="185" width="1" height="26" fill="#ff0000"/>
<rect x="798" y="162" width="1" height="25" fill="#000"/>
<rect x="797" y="178" width="3" height="7" fill="#000"/>
<rect x="798" y="179" width="1" height="5" fill="#ff0000"/>
<rect x="802" y="161" width="1" height="26" fill="#000"/>
<rect x="801" y="165" width="3" height="13" fill="#000"/>
<rect x="802" y="166" width="1" height="11" fill="#ff0000"/>
<rect x="806" y="142" width="1" height="28" fill="#000"/>
<rect x="805" y="151" width="3" height="14" fill="#000"/>
<rect x="806" y="152" width="1" height="12" fill="#ff0000"/>
<rect x="810" y="149" width="1" height="4" fill="#000"/>
<rect x="809" y="150" width="3" height="3" fill="#000"/>
<rect x="810" y="151" width="1" height="1" fill="#ff0000"/>
<rect x="814" y="126" width="1" height="25" fill="#000"/>
<rect x="813" y="131" width="3" height="20" fill="#000"/>
<rect x="814" y="132" width="1" height="18" fill="#ff0000"/>
<rect x="818" y="120" width="1" height="19" fill="#000"/>
<rect x="817" y="130" width="3" height="5" fill="#000"/>
<rect x="818" y="131" width="1" height="3" fill="#00ff00"/>
<rect x="822" y="130" width="1" height="29" fill="#000"/>
<rect x="821" y="135" width="3" height="4" fill="#000"/>
<rect x="822" y="136" width="1" height="2" fill="#00ff00"/>
<rect x="826" y="110" width="1" height="30" fill="#000"/>
<rect x="825" y="131" width="3" height="9" fill="#000"/>
<rect x="826" y="132" width="1" height="7" fill="#ff0000"/>
<rect x="830" y="126" width="1" height="29" fill="#000"/>
<rect x="829" y="131" width="3" height="19" fill="#000"/>
<rect x="830" y="132" width="1" height="17" fill="#00ff00"/>
<rect x="834" y="154" width="1" height="5" fill="#000"/>
<rect x="833" y="155" width="3" height="4" fill="#000"/>
<rect x="834" y="156" width="1" height="2" fill="#00ff00"/>
<rect x="838" y="145" width="1" height="22" fill="#000"/>
<rect x="837" y="151" width="3" height="8" fill="#000"/>
<rect x="838" y="152" width="1" height="6" fill="#ff0000"/>
<rect x="842" y="146" width="1" height="51" fill="#000"/>
<rect x="841" y="151" width="3" height="32" fill="#000"/>
<rect x="842" y="152" width="1" height="30" fill="#00ff00"/>
<rect x="846" y="165" width="1" height="24" fill="#000"/>
<rect x="845" y="173" width="3" height="10" fill="#000"/>
<rect x="846" y="174" width="1" height="8" fill="#ff0000"/>
<rect x="850" y="164" width="1" height="30" fill="#000"/>
<rect x="849" y="173" width="3" height="19" fill="#000"/>
<rect x="850" y="174" width="1" height="17" fill="#00ff00"/>
<rect x="854" y="177" width="1" height="38" fill="#000"/>
<rect x="853" y="192" width="3" height="10" fill="#000"/>
<rect x="854" y="193" width="1" height="8" fill="#00ff00"/>
<rect x="858" y="203" width="1" height="5" fill="#000"/>
<rect x="857" y="204" width="3" height="4" fill="#000"/>
<rect x="858" y="205" width="1" height="2" fill="#ff0000"/>
<rect x="862" y="193" width="1" height="17" fill="#000"/>
<rect x="861" y="200" width="3" height="4" fill="#000"/>
<rect x="862" y="201" width="1" height="2" fill="#ff0000"/>
<rect x="866" y="191" width="1" height="19" fill="#000"/>
<rect x="865" y="200" width="3" height="7" fill="#000"/>
<rect x="866" y="201" width="1" height="5" fill="#00ff00"/>
<rect x="870" y="194" width="1" height="30" fill="#000"/>
<rect x="869" y="208" width="3" height="15" fill="#000"/>
<rect x="870" y="209" width="1" height="13" fill="#00ff00"/>
<rect x="874" y="204" width="1" height="36" fill="#000"/>
<rect x="873" y="222" width="3" height="16" fill="#000"/>
<rect x="874" y="223" width="1" height="14" fill="#00ff00"/>
<rect x="878" y="218" width="1" height="36" fill="#000"/>
<rect x="877" y="237" width="3" height="9" fill="#000"/>
<rect x="878" y="238" width="1" height="7" fill="#00ff00"/>
<rect x="882" y="241" width="1" height="5" fill="#000"/>
<rect x="881" y="242" width="3" height="4" fill="#000"/>
<rect x="882" y="243" width="1" height="2" fill="#ff0000"/>
<rect x="886" y="242" width="1" height="19" fill="#000"/>
<rect x="885" y="244" width="3" height="10" fill="#000"/>
<rect x="886" y="245" width="1" height="8" fill="#00ff00"/>
<rect x="890" y="221" width="1" height="44" fill="#000"/>
<rect x="889" y="222" width="3" height="32" fill="#000"/>
<rect x="890" y="223" width="1" height="30" fill="#ff0000"/>
<rect x="894" y="197" width="1" height="41" fill="#000"/>
<rect x="893" y="211" width="3" height="12" fill="#000"/>
<rect x="894" y="212" width="1" height="10" fill="#ff0000"/>
<rect x="898" y="207" width="1" height="33" fill="#000"/>
<rect x="897" y="211" width="3" height="27" fill="#000"/>
<rect x="898" y="212" width="1" height="25" fill="#00ff00"/>
<rect x="902" y="197" width="1" height="43" fill="#000"/>
<rect x="901" y="210" width="3" height="30" fill="#000"/>
<rect x="902" y="211" width="1" height="28" fill="#ff0000"/>
<rect x="906" y="206" width="1" height="4" fill="#000"/>
<rect x="905" y="208" width="3" height="1" fill="#000"/>
<rect x="910" y="203" width="1" height="43" fill="#000"/>
<rect x="909" y="209" width="3" height="27" fill="#000"/>
<rect x="910" y="210" width="1" height="25" fill="#00ff00"/>
<rect x="914" y="232" width="1" height="18" fill="#000"/>
<rect x="913" y="234" width="3" height="4" fill="#000"/>
<rect x="914" y="235" width="1" height="2" fill="#00ff00"/>
<rect x="918" y="236" width="1" height="58" fill="#000"/>
<rect x="917" y="237" width="3" height="44" fill="#000"/>
<rect x="918" y="238" width="1" height="42" fill="#00ff00"/>
<rect x="922" y="273" width="1" height="29" fill="#000"/>
<rect x="921" y="281" width="3" height="5" fill="#000"/>
<rect x="922" y="282" width="1" height="3" fill="#00ff00"/>
<rect x="926" y="272" width="1" height="18" fill="#000"/>
<rect x="925" y="285" width="3" height="1" fill="#000"/>
<rect x="6" y="285" width="1162" height="1" fill="#000"/>
<rect x="6" y="65" width="1164" height="2" fill="#ff0000"/>
<rect x="6" y="140" width="1164" height="2" fill="#ff0000"/>
<rect x="5" y="138" width="6" height="6" fill="#ff0000"/>
<rect x="7" y="140" width="2" height="2" fill="#fff"/>
<rect x="1162" y="138" width="6" height="6" fill="#ff0000"/>
<rect x="1164" y="140" width="2" height="2" fill="#fff"/>
<rect x="6" y="215" width="1164" height="2" fill="#00ff00"/>
<rect x="5" y="213" width="6" height="6" fill="#00ff00"/>
<rect x="7" y="215" width="2" height="2" fill="#fff"/>
<rect x="1162" y="213" width="6" height="6" fill="#00ff00"/>
<rect x="1164" y="215" width="2" height="2" fill="#fff"/>
<rect x="6" y="289" width="1164" height="2" fill="#0000ff"/>
<rect x="5" y="287" width="6" height="6" fill="#0000ff"/>
<rect x="7" y="289" width="2" height="2" fill="#fff"/>
<rect x="1162" y="287" width="6" height="6" fill="#0000ff"/>
<rect x="1164" y="289" width="2" height="2" fill="#fff"/>
<rect x="6" y="371" width="1164" height="2" fill="#0000ff"/>
<polygon points="950.6,262.9 977.3,305.1 981.0,303.0 981.8,322.0 967.2,311.1 970.0,309.3 949.9,263.4" fill="#92c800" shape-rendering="auto"/>
<rect x="930" y="24" width="9" height="1" fill="#000"/>
<rect x="931" y="25" width="7" height="1" fill="#000"/>
<rect x="932" y="26" width="5" height="1" fill="#000"/>
<rect x="933" y="27" width="3" height="1" fill="#000"/>
<rect x="934" y="28" width="1" height="1" fill="#000"/>
<rect x="9" y="30" width="7" height="1" fill="#000"/>
<rect x="10" y="31" width="5" height="1" fill="#000"/>
<rect x="11" y="32" width="3" height="1" fill="#000"/>
<rect x="12" y="33" width="1" height="1" fill="#000"/>
<rect x="1169" y="49" width="2" height="1" fill="#000"/>
<text x="1174" y="53" font-size="10" fill="#000" textLength="33" lengthAdjust="spacingAndGlyphs" stroke="#000" stroke-width="0.15">1.00460</text>
<rect x="1169" y="82" width="2" height="1" fill="#000"/>
<text x="1174" y="86" font-size="10" fill="#000" textLength="33" lengthAdjust="spacingAndGlyphs" stroke="#000" stroke-width="0.15">0.99585</text>
<rect x="1169" y="115" width="2" height="1" fill="#000"/>
<text x="1174" y="119" font-size="10" fill="#000" textLength="33" lengthAdjust="spacingAndGlyphs" stroke="#000" stroke-width="0.15">0.98710</text>
<rect x="1169" y="148" width="2" height="1" fill="#000"/>
<text x="1174" y="152" font-size="10" fill="#000" textLength="33" lengthAdjust="spacingAndGlyphs" stroke="#000" stroke-width="0.15">0.97810</text>
<rect x="1169" y="181" width="2" height="1" fill="#000"/>
<text x="1174" y="185" font-size="10" fill="#000" textLength="33" lengthAdjust="spacingAndGlyphs" stroke="#000" stroke-width="0.15">0.96935</text>
<rect x="1169" y="214" width="2" height="1" fill="#000"/>
<text x="1174" y="218" font-size="10" fill="#000" textLength="33" lengthAdjust="spacingAndGlyphs" stroke="#000" stroke-width="0.15">0.96060</text>
<rect x="1169" y="247" width="2" height="1" fill="#000"/>
<text x="1174" y="251" font-size="10" fill="#000" textLength="33" lengthAdjust="spacingAndGlyphs" stroke="#000" stroke-width="0.15">0.95160</text>
<rect x="1169" y="280" width="2" height="1" fill="#000"/>
<text x="1174" y="284" font-size="10" fill="#000" textLength="33" lengthAdjust="spacingAndGlyphs" stroke="#000" stroke-width="0.15">0.94260</text>
<rect x="1169" y="313" width="2" height="1" fill="#000"/>
<text x="1174" y="317" font-size="10" fill="#000" textLength="33" lengthAdjust="spacingAndGlyphs" stroke="#000" stroke-width="0.15">0.93385</text>
<rect x="1169" y="346" width="2" height="1" fill="#000"/>
<text x="1174" y="350" font-size="10" fill="#000" textLength="33" lengthAdjust="spacingAndGlyphs" stroke="#000" stroke-width="0.15">0.92510</text>
<rect x="1169" y="379" width="2" height="1" fill="#000"/>
<text x="1174" y="383" font-size="10" fill="#000" textLength="33" lengthAdjust="spacingAndGlyphs" stroke="#000" stroke-width="0.15">0.91610</text>
<rect x="1169" y="412" width="2" height="1" fill="#000"/>
<text x="1174" y="416" font-size="10" fill="#000" textLength="33" lengthAdjust="spacingAndGlyphs" stroke="#000" stroke-width="0.15">0.90735</text>
<rect x="1170" y="280" width="41" height="11" fill="#000"/>
<text x="1174" y="289" font-size="10" fill="#fff" textLength="33" lengthAdjust="spacingAndGlyphs" stroke="#fff" stroke-width="0.15">0.94142</text>
<rect x="1170" y="60" width="41" height="11" fill="#ff0000"/>
<text x="1174" y="69" font-size="10" fill="#fff" textLength="33" lengthAdjust="spacingAndGlyphs" stroke="#fff" stroke-width="0.15">1.00012</text>
<rect x="1170" y="135" width="41" height="11" fill="#ff0000"/>
<text x="1174" y="144" font-size="10" fill="#fff" textLength="33" lengthAdjust="spacingAndGlyphs" stroke="#fff" stroke-width="0.15">0.98005</text>
<rect x="1170" y="210" width="41" height="11" fill="#00ff00"/>
<text x="1174" y="219" font-size="10" fill="#fff" textLength="33" lengthAdjust="spacingAndGlyphs" stroke="#fff" stroke-width="0.15">0.95998</text>
<rect x="1170" y="284" width="41" height="11" fill="#0000ff"/>
<text x="1174" y="293" font-size="10" fill="#fff" textLength="33" lengthAdjust="spacingAndGlyphs" stroke="#fff" stroke-width="0.15">0.94013</text>
<rect x="1170" y="366" width="41" height="11" fill="#0000ff"/>
<text x="1174" y="375" font-size="10" fill="#fff" textLength="33" lengthAdjust="spacingAndGlyphs" stroke="#fff" stroke-width="0.15">0.91811</text>
<text x="21" y="35" font-size="10" fill="#000" textLength="68" lengthAdjust="spacingAndGlyphs" stroke="#000" stroke-width="0.15">USDCHF-,Daily</text>
<text x="95" y="35" font-size="10" fill="#000" textLength="141" lengthAdjust="spacingAndGlyphs" stroke="#000" stroke-width="0.15">0.94138 0.94493 0.94067 0.94142</text>
<rect x="5" y="443" width="3" height="3" fill="#00ff00"/>
<rect x="9" y="443" width="3" height="3" fill="#00ff00"/>
<rect x="13" y="442" width="3" height="4" fill="#00ff00"/>
<rect x="17" y="441" width="3" height="5" fill="#00ff00"/>
<rect x="21" y="440" width="3" height="6" fill="#00ff00"/>
<rect x="25" y="440" width="3" height="6" fill="#00ff00"/>
<rect x="29" y="439" width="3" height="7" fill="#00ff00"/>
<rect x="33" y="439" width="3" height="7" fill="#00ff00"/>
<rect x="37" y="440" width="3" height="6" fill="#00ff00"/>
<rect x="41" y="441" width="3" height="5" fill="#00ff00"/>
<rect x="45" y="442" width="3" height="4" fill="#00ff00"/>
<rect x="49" y="443" width="3" height="3" fill="#00ff00"/>
<rect x="53" y="444" width="3" height="2" fill="#00ff00"/>
<rect x="57" y="445" width="3" height="1" fill="#00ff00"/>
<rect x="61" y="446" width="3" height="1" fill="#00ff00"/>
<rect x="65" y="446" width="3" height="1" fill="#00ff00"/>
<rect x="69" y="446" width="3" height="1" fill="#00ff00"/>
<rect x="73" y="446" width="3" height="1" fill="#00ff00"/>
<rect x="77" y="446" width="3" height="1" fill="#00ff00"/>
<rect x="81" y="446" width="3" height="1" fill="#00ff00"/>
<rect x="85" y="446" width="3" height="1" fill="#00ff00"/>
<rect x="89" y="446" width="3" height="1" fill="#00ff00"/>
<rect x="93" y="446" width="3" height="1" fill="#00ff00"/>
<rect x="97" y="446" width="3" height="1" fill="#00ff00"/>
<rect x="101" y="446" width="3" height="1" fill="#00ff00"/>
<rect x="105" y="446" width="3" height="1" fill="#00ff00"/>
<rect x="109" y="446" width="3" height="1" fill="#00ff00"/>
<rect x="113" y="446" width="3" height="1" fill="#00ff00"/>
<rect x="117" y="446" width="3" height="1" fill="#00ff00"/>
<rect x="121" y="446" width="3" height="1" fill="#00ff00"/>
<rect x="125" y="446" width="3" height="1" fill="#00ff00"/>
<rect x="129" y="446" width="3" height="2" fill="#00ff00"/>
<rect x="133" y="446" width="3" height="2" fill="#00ff00"/>
<rect x="137" y="446" width="3" height="2" fill="#00ff00"/>
<rect x="141" y="446" width="3" height="3" fill="#00ff00"/>
<rect x="145" y="446" width="3" height="3" fill="#00ff00"/>
<rect x="149" y="446" width="3" height="4" fill="#00ff00"/>
<rect x="153" y="446" width="3" height="4" fill="#00ff00"/>
<rect x="157" y="446" width="3" height="5" fill="#00ff00"/>
<rect x="161" y="446" width="3" height="5" fill="#00ff00"/>
<rect x="165" y="446" width="3" height="5" fill="#00ff00"/>
<rect x="169" y="446" width="3" height="5" fill="#00ff00"/>
<rect x="173" y="446" width="3" height="4" fill="#00ff00"/>
<rect x="177" y="446" width="3" height="3" fill="#00ff00"/>
<rect x="181" y="446" width="3" height="3" fill="#00ff00"/>
<rect x="185" y="446" width="3" height="3" fill="#00ff00"/>
<rect x="189" y="446" width="3" height="1" fill="#00ff00"/>
<rect x="193" y="446" width="3" height="1" fill="#00ff00"/>
<rect x="197" y="446" width="3" height="1" fill="#00ff00"/>
<rect x="201" y="446" width="3" height="2" fill="#00ff00"/>
<rect x="205" y="446" width="3" height="3" fill="#00ff00"/>
<rect x="209" y="446" width="3" height="3" fill="#00ff00"/>
<rect x="213" y="446" width="3" height="3" fill="#00ff00"/>
<rect x="217" y="446" width="3" height="3" fill="#00ff00"/>
<rect x="221" y="446" width="3" height="3" fill="#00ff00"/>
<rect x="225" y="446" width="3" height="3" fill="#00ff00"/>
<rect x="229" y="446" width="3" height="3" fill="#00ff00"/>
<rect x="233" y="446" width="3" height="3" fill="#00ff00"/>
<rect x="237" y="446" width="3" height="3" fill="#00ff00"/>
<rect x="241" y="446" width="3" height="3" fill="#00ff00"/>
<rect x="245" y="446" width="3" height="2" fill="#00ff00"/>
<rect x="249" y="445" width="3" height="1" fill="#00ff00"/>
<rect x="253" y="443" width="3" height="3" fill="#00ff00"/>
<rect x="257" y="442" width="3" height="4" fill="#00ff00"/>
<rect x="261" y="442" width="3" height="4" fill="#00ff00"/>
<rect x="265" y="442" width="3" height="4" fill="#00ff00"/>
<rect x="269" y="443" width="3" height="3" fill="#00ff00"/>
<rect x="273" y="443" width="3" height="3" fill="#00ff00"/>
<rect x="277" y="443" width="3" height="3" fill="#00ff00"/>
<rect x="281" y="443" width="3" height="3" fill="#00ff00"/>
<rect x="285" y="443" width="3" height="3" fill="#00ff00"/>
<rect x="289" y="443" width="3" height="3" fill="#00ff00"/>
<rect x="293" y="443" width="3" height="3" fill="#00ff00"/>
<rect x="297" y="443" width="3" height="3" fill="#00ff00"/>
<rect x="301" y="443" width="3" height="3" fill="#00ff00"/>
<rect x="305" y="443" width="3" height="3" fill="#00ff00"/>
<rect x="309" y="443" width="3" height="3" fill="#00ff00"/>
<rect x="313" y="443" width="3" height="3" fill="#00ff00"/>
<rect x="317" y="444" width="3" height="2" fill="#00ff00"/>
<rect x="321" y="445" width="3" height="1" fill="#00ff00"/>
<rect x="325" y="445" width="3" height="1" fill="#00ff00"/>
<rect x="329" y="445" width="3" height="1" fill="#00ff00"/>
<rect x="333" y="446" width="3" height="1" fill="#00ff00"/>
<rect x="337" y="446" width="3" height="1" fill="#00ff00"/>
<rect x="341" y="446" width="3" height="2" fill="#00ff00"/>
<rect x="345" y="446" width="3" height="1" fill="#00ff00"/>
<rect x="349" y="445" width="3" height="1" fill="#00ff00"/>
<rect x="353" y="445" width="3" height="1" fill="#00ff00"/>
<rect x="357" y="446" width="3" height="1" fill="#00ff00"/>
<rect x="361" y="446" width="3" height="1" fill="#00ff00"/>
<rect x="365" y="446" width="3" height="1" fill="#00ff00"/>
<rect x="369" y="446" width="3" height="2" fill="#00ff00"/>
<rect x="373" y="446" width="3" height="2" fill="#00ff00"/>
<rect x="377" y="446" width="3" height="2" fill="#00ff00"/>
<rect x="381" y="446" width="3" height="1" fill="#00ff00"/>
<rect x="385" y="445" width="3" height="1" fill="#00ff00"/>
<rect x="389" y="445" width="3" height="1" fill="#00ff00"/>
<rect x="393" y="444" width="3" height="2" fill="#00ff00"/>
<rect x="397" y="443" width="3" height="3" fill="#00ff00"/>
<rect x="401" y="442" width="3" height="4" fill="#00ff00"/>
<rect x="405" y="440" width="3" height="6" fill="#00ff00"/>
<rect x="409" y="439" width="3" height="7" fill="#00ff00"/>
<rect x="413" y="438" width="3" height="8" fill="#00ff00"/>
<rect x="417" y="438" width="3" height="8" fill="#00ff00"/>
<rect x="421" y="439" width="3" height="7" fill="#00ff00"/>
<rect x="425" y="440" width="3" height="6" fill="#00ff00"/>
<rect x="429" y="440" width="3" height="6" fill="#00ff00"/>
<rect x="433" y="440" width="3" height="6" fill="#00ff00"/>
<rect x="437" y="441" width="3" height="5" fill="#00ff00"/>
<rect x="441" y="442" width="3" height="4" fill="#00ff00"/>
<rect x="445" y="442" width="3" height="4" fill="#00ff00"/>
<rect x="449" y="443" width="3" height="3" fill="#00ff00"/>
<rect x="453" y="443" width="3" height="3" fill="#00ff00"/>
<rect x="457" y="443" width="3" height="3" fill="#00ff00"/>
<rect x="461" y="445" width="3" height="1" fill="#00ff00"/>
<rect x="465" y="446" width="3" height="1" fill="#00ff00"/>
<rect x="469" y="446" width="3" height="1" fill="#00ff00"/>
<rect x="473" y="446" width="3" height="2" fill="#00ff00"/>
<rect x="477" y="446" width="3" height="2" fill="#00ff00"/>
<rect x="481" y="446" width="3" height="2" fill="#00ff00"/>
<rect x="485" y="446" width="3" height="1" fill="#00ff00"/>
<rect x="489" y="445" width="3" height="1" fill="#00ff00"/>
<rect x="493" y="445" width="3" height="1" fill="#00ff00"/>
<rect x="497" y="444" width="3" height="2" fill="#00ff00"/>
<rect x="501" y="444" width="3" height="2" fill="#00ff00"/>
<rect x="505" y="444" width="3" height="2" fill="#00ff00"/>
<rect x="509" y="444" width="3" height="2" fill="#00ff00"/>
<rect x="513" y="443" width="3" height="3" fill="#00ff00"/>
<rect x="517" y="442" width="3" height="4" fill="#00ff00"/>
<rect x="521" y="441" width="3" height="5" fill="#00ff00"/>
<rect x="525" y="440" width="3" height="6" fill="#00ff00"/>
<rect x="529" y="438" width="3" height="8" fill="#00ff00"/>
<rect x="533" y="438" width="3" height="8" fill="#00ff00"/>
<rect x="537" y="437" width="3" height="9" fill="#00ff00"/>
<rect x="541" y="435" width="3" height="11" fill="#00ff00"/>
<rect x="545" y="435" width="3" height="11" fill="#00ff00"/>
<rect x="549" y="434" width="3" height="12" fill="#00ff00"/>
<rect x="553" y="433" width="3" height="13" fill="#00ff00"/>
<rect x="557" y="432" width="3" height="14" fill="#00ff00"/>
<rect x="561" y="430" width="3" height="16" fill="#00ff00"/>
<rect x="565" y="429" width="3" height="17" fill="#00ff00"/>
<rect x="569" y="428" width="3" height="18" fill="#00ff00"/>
<rect x="573" y="427" width="3" height="19" fill="#00ff00"/>
<rect x="577" y="427" width="3" height="19" fill="#00ff00"/>
<rect x="581" y="427" width="3" height="19" fill="#00ff00"/>
<rect x="585" y="426" width="3" height="20" fill="#00ff00"/>
<rect x="589" y="425" width="3" height="21" fill="#00ff00"/>
<rect x="593" y="424" width="3" height="22" fill="#00ff00"/>
<rect x="597" y="424" width="3" height="22" fill="#00ff00"/>
<rect x="601" y="423" width="3" height="23" fill="#00ff00"/>
<rect x="605" y="423" width="3" height="23" fill="#00ff00"/>
<rect x="609" y="422" width="3" height="24" fill="#00ff00"/>
<rect x="613" y="421" width="3" height="25" fill="#00ff00"/>
<rect x="617" y="421" width="3" height="25" fill="#00ff00"/>
<rect x="621" y="421" width="3" height="25" fill="#00ff00"/>
<rect x="625" y="423" width="3" height="23" fill="#00ff00"/>
<rect x="629" y="425" width="3" height="21" fill="#00ff00"/>
<rect x="633" y="430" width="3" height="16" fill="#00ff00"/>
<rect x="637" y="433" width="3" height="13" fill="#00ff00"/>
<rect x="641" y="435" width="3" height="11" fill="#00ff00"/>
<rect x="645" y="439" width="3" height="7" fill="#00ff00"/>
<rect x="649" y="442" width="3" height="4" fill="#00ff00"/>
<rect x="653" y="445" width="3" height="1" fill="#00ff00"/>
<rect x="657" y="446" width="3" height="2" fill="#00ff00"/>
<rect x="661" y="446" width="3" height="4" fill="#00ff00"/>
<rect x="665" y="446" width="3" height="6" fill="#00ff00"/>
<rect x="669" y="446" width="3" height="7" fill="#00ff00"/>
<rect x="673" y="446" width="3" height="8" fill="#00ff00"/>
<rect x="677" y="446" width="3" height="7" fill="#00ff00"/>
<rect x="681" y="446" width="3" height="8" fill="#00ff00"/>
<rect x="685" y="446" width="3" height="8" fill="#00ff00"/>
<rect x="689" y="446" width="3" height="8" fill="#00ff00"/>
<rect x="693" y="446" width="3" height="6" fill="#00ff00"/>
<rect x="697" y="446" width="3" height="4" fill="#00ff00"/>
<rect x="701" y="446" width="3" height="3" fill="#00ff00"/>
<rect x="705" y="446" width="3" height="1" fill="#00ff00"/>
<rect x="709" y="443" width="3" height="3" fill="#00ff00"/>
<rect x="713" y="441" width="3" height="5" fill="#00ff00"/>
<rect x="717" y="439" width="3" height="7" fill="#00ff00"/>
<rect x="721" y="436" width="3" height="10" fill="#00ff00"/>
<rect x="725" y="435" width="3" height="11" fill="#00ff00"/>
<rect x="729" y="439" width="3" height="7" fill="#00ff00"/>
<rect x="733" y="441" width="3" height="5" fill="#00ff00"/>
<rect x="737" y="442" width="3" height="4" fill="#00ff00"/>
<rect x="741" y="444" width="3" height="2" fill="#00ff00"/>
<rect x="745" y="446" width="3" height="1" fill="#00ff00"/>
<rect x="749" y="446" width="3" height="2" fill="#00ff00"/>
<rect x="753" y="446" width="3" height="4" fill="#00ff00"/>
<rect x="757" y="446" width="3" height="5" fill="#00ff00"/>
<rect x="761" y="446" width="3" height="7" fill="#00ff00"/>
<rect x="765" y="446" width="3" height="8" fill="#00ff00"/>
<rect x="769" y="446" width="3" height="8" fill="#00ff00"/>
<rect x="773" y="446" width="3" height="9" fill="#00ff00"/>
<rect x="777" y="446" width="3" height="10" fill="#00ff00"/>
<rect x="781" y="446" width="3" height="9" fill="#00ff00"/>
<rect x="785" y="446" width="3" height="9" fill="#00ff00"/>
<rect x="789" y="446" width="3" height="8" fill="#00ff00"/>
<rect x="793" y="446" width="3" height="7" fill="#00ff00"/>
<rect x="797" y="446" width="3" height="5" fill="#00ff00"/>
<rect x="801" y="446" width="3" height="4" fill="#00ff00"/>
<rect x="805" y="446" width="3" height="2" fill="#00ff00"/>
<rect x="809" y="445" width="3" height="1" fill="#00ff00"/>
<rect x="813" y="443" width="3" height="3" fill="#00ff00"/>
<rect x="817" y="442" width="3" height="4" fill="#00ff00"/>
<rect x="821" y="441" width="3" height="5" fill="#00ff00"/>
<rect x="825" y="440" width="3" height="6" fill="#00ff00"/>
<rect x="829" y="440" width="3" height="6" fill="#00ff00"/>
<rect x="833" y="441" width="3" height="5" fill="#00ff00"/>
<rect x="837" y="441" width="3" height="5" fill="#00ff00"/>
<rect x="841" y="442" width="3" height="4" fill="#00ff00"/>
<rect x="845" y="443" width="3" height="3" fill="#00ff00"/>
<rect x="849" y="444" width="3" height="2" fill="#00ff00"/>
<rect x="853" y="446" width="3" height="1" fill="#00ff00"/>
<rect x="857" y="446" width="3" height="2" fill="#00ff00"/>
<rect x="861" y="446" width="3" height="3" fill="#00ff00"/>
<rect x="865" y="446" width="3" height="3" fill="#00ff00"/>
<rect x="869" y="446" width="3" height="5" fill="#00ff00"/>
<rect x="873" y="446" width="3" height="6" fill="#00ff00"/>
<rect x="877" y="446" width="3" height="7" fill="#00ff00"/>
<rect x="881" y="446" width="3" height="8" fill="#00ff00"/>
<rect x="885" y="446" width="3" height="9" fill="#00ff00"/>
<rect x="889" y="446" width="3" height="9" fill="#00ff00"/>
<rect x="893" y="446" width="3" height="8" fill="#00ff00"/>
<rect x="897" y="446" width="3" height="8" fill="#00ff00"/>
<rect x="901" y="446" width="3" height="7" fill="#00ff00"/>
<rect x="905" y="446" width="3" height="6" fill="#00ff00"/>
<rect x="909" y="446" width="3" height="7" fill="#00ff00"/>
<rect x="913" y="446" width="3" height="7" fill="#00ff00"/>
<rect x="917" y="446" width="3" height="9" fill="#00ff00"/>
<rect x="921" y="446" width="3" height="10" fill="#00ff00"/>
<rect x="925" y="446" width="3" height="11" fill="#00ff00"/>
<polyline points="6.5,447 10.5,446 14.5,446 18.5,445 22.5,444 26.5,443 30.5,442 34.5,441 38.5,441 42.5,441 46.5,440 50.5,441 54.5,441 58.5,441 62.5,442 66.5,443 70.5,444 74.5,444 78.5,445 82.5,445 86.5,446 90.5,446 94.5,446 98.5,446 102.5,446 106.5,446 110.5,446 114.5,446 118.5,446 122.5,446 126.5,446 130.5,446 134.5,446 138.5,446 142.5,447 146.5,447 150.5,447 154.5,448 158.5,448 162.5,448 166.5,449 170.5,449 174.5,449 178.5,449 182.5,449 186.5,449 190.5,449 194.5,448 198.5,448 202.5,448 206.5,447 210.5,447 214.5,447 218.5,447 222.5,447 226.5,447 230.5,448 234.5,448 238.5,448 242.5,448 246.5,448 250.5,448 254.5,447 258.5,446 262.5,446 266.5,445 270.5,444 274.5,444 278.5,443 282.5,443 286.5,443 290.5,443 294.5,443 298.5,443 302.5,443 306.5,443 310.5,443 314.5,443 318.5,443 322.5,443 326.5,444 330.5,444 334.5,444 338.5,445 342.5,445 346.5,445 350.5,446 354.5,446 358.5,446 362.5,446 366.5,446 370.5,446 374.5,446 378.5,446 382.5,446 386.5,446 390.5,446 394.5,446 398.5,446 402.5,445 406.5,444 410.5,444 414.5,443 418.5,442 422.5,441 426.5,440 430.5,440 434.5,440 438.5,440 442.5,440 446.5,440 450.5,441 454.5,441 458.5,442 462.5,442 466.5,443 470.5,443 474.5,444 478.5,445 482.5,445 486.5,445 490.5,446 494.5,446 498.5,446 502.5,446 506.5,445 510.5,445 514.5,445 518.5,444 522.5,444 526.5,443 530.5,442 534.5,442 538.5,441 542.5,440 546.5,439 550.5,438 554.5,437 558.5,436 562.5,435 566.5,434 570.5,433 574.5,432 578.5,431 582.5,430 586.5,429 590.5,428 594.5,427 598.5,426 602.5,426 606.5,425 610.5,424 614.5,424 618.5,423 622.5,423 626.5,422 630.5,422 634.5,423 638.5,424 642.5,426 646.5,428 650.5,430 654.5,432 658.5,435 662.5,438 666.5,441 670.5,444 674.5,446 678.5,448 682.5,449 686.5,451 690.5,451 694.5,452 698.5,452 702.5,452 706.5,451 710.5,450 714.5,449 718.5,447 722.5,445 726.5,443 730.5,442 734.5,441 738.5,440 742.5,440 746.5,440 750.5,441 754.5,442 758.5,444 762.5,445 766.5,447 770.5,448 774.5,450 778.5,451 782.5,452 786.5,453 790.5,453 794.5,453 798.5,453 802.5,453 806.5,452 810.5,451 814.5,450 818.5,448 822.5,447 826.5,445 830.5,444 834.5,443 838.5,442 842.5,442 846.5,441 850.5,442 854.5,442 858.5,443 862.5,443 866.5,444 870.5,445 874.5,446 878.5,448 882.5,449 886.5,450 890.5,451 894.5,451 898.5,452 902.5,453 906.5,453 910.5,453 914.5,453 918.5,453 922.5,453 926.5,453" fill="none" stroke="#ff0000" stroke-width="2" shape-rendering="crispEdges" stroke-linejoin="round"/>
<line x1="6" y1="474.5" x2="1168" y2="474.5" stroke="#000" stroke-width="1" stroke-dasharray="3 3"/>
<line x1="6" y1="491.5" x2="1168" y2="491.5" stroke="#000" stroke-width="1" stroke-dasharray="3 3"/>
<polyline points="6.5,478 10.5,479 14.5,478 18.5,478 22.5,477 26.5,476 30.5,476 34.5,475 38.5,484 42.5,483 46.5,483 50.5,485 54.5,485 58.5,485 62.5,486 66.5,485 70.5,481 74.5,482 78.5,484 82.5,482 86.5,484 90.5,484 94.5,483 98.5,482 102.5,482 106.5,485 110.5,482 114.5,482 118.5,483 122.5,483 126.5,485 130.5,485 134.5,485 138.5,485 142.5,486 146.5,486 150.5,488 154.5,489 158.5,490 162.5,489 166.5,484 170.5,485 174.5,484 178.5,481 182.5,483 186.5,483 190.5,478 194.5,480 198.5,486 202.5,487 206.5,485 210.5,485 214.5,485 218.5,483 222.5,484 226.5,483 230.5,486 234.5,485 238.5,485 242.5,482 246.5,479 250.5,476 254.5,476 258.5,476 262.5,479 266.5,483 270.5,484 274.5,483 278.5,480 282.5,481 286.5,482 290.5,481 294.5,481 298.5,480 302.5,481 306.5,481 310.5,481 314.5,481 318.5,484 322.5,485 326.5,484 330.5,484 334.5,487 338.5,483 342.5,485 346.5,481 350.5,480 354.5,480 358.5,485 362.5,485 366.5,484 370.5,485 374.5,485 378.5,483 382.5,481 386.5,479 390.5,481 394.5,479 398.5,477 402.5,477 406.5,476 410.5,475 414.5,475 418.5,478 422.5,481 426.5,481 430.5,480 434.5,480 438.5,482 442.5,483 446.5,482 450.5,482 454.5,480 458.5,482 462.5,487 466.5,487 470.5,485 474.5,485 478.5,484 482.5,482 486.5,480 490.5,479 494.5,480 498.5,479 502.5,482 506.5,481 510.5,480 514.5,475 518.5,475 522.5,476 526.5,475 530.5,472 534.5,475 538.5,473 542.5,472 546.5,473 550.5,472 554.5,471 558.5,470 562.5,469 566.5,470 570.5,469 574.5,468 578.5,468 582.5,473 586.5,470 590.5,470 594.5,470 598.5,469 602.5,468 606.5,470 610.5,468 614.5,468 618.5,469 622.5,469 626.5,476 630.5,479 634.5,485 638.5,484 642.5,484 646.5,487 650.5,489 654.5,488 658.5,489 662.5,489 666.5,489 670.5,489 674.5,488 678.5,486 682.5,488 686.5,486 690.5,486 694.5,481 698.5,480 702.5,479 706.5,478 710.5,476 714.5,475 718.5,473 722.5,473 726.5,476 730.5,486 734.5,485 738.5,485 742.5,485 746.5,486 750.5,487 754.5,487 758.5,488 762.5,488 766.5,489 770.5,488 774.5,489 778.5,489 782.5,486 786.5,486 790.5,485 794.5,481 798.5,481 802.5,479 806.5,478 810.5,478 814.5,476 818.5,477 822.5,477 826.5,477 830.5,480 834.5,481 838.5,480 842.5,485 846.5,483 850.5,486 854.5,487 858.5,487 862.5,486 866.5,487 870.5,489 874.5,490 878.5,491 882.5,490 886.5,491 890.5,486 894.5,484 898.5,487 902.5,483 906.5,483 910.5,486 914.5,486 918.5,490 922.5,490 926.5,490" fill="none" stroke="#1e90ff" stroke-width="2" shape-rendering="crispEdges" stroke-linejoin="round"/>
<text x="10" y="430" font-size="10" fill="#000" textLength="153" lengthAdjust="spacingAndGlyphs" stroke="#000" stroke-width="0.15">MACD(12,26,9) -0.005861 -0.004181</text>
<text x="10" y="473" font-size="10" fill="#000" textLength="67.5" lengthAdjust="spacingAndGlyphs" stroke="#000" stroke-width="0.15">RSI(14) 32.8814</text>
<text x="1172" y="428" font-size="10" fill="#000" textLength="37" lengthAdjust="spacingAndGlyphs" stroke="#000" stroke-width="0.15">0.015636</text>
<rect x="1169" y="446" width="1" height="1" fill="#000"/>
<text x="1172" y="450" font-size="10" fill="#000" textLength="17" lengthAdjust="spacingAndGlyphs" stroke="#000" stroke-width="0.15">0.00</text>
<text x="1172" y="455" font-size="10" fill="#000" textLength="41" lengthAdjust="spacingAndGlyphs" stroke="#000" stroke-width="0.15">-0.006884</text>
<rect x="1169" y="419" width="1" height="1" fill="#000"/>
<rect x="1169" y="457" width="1" height="1" fill="#000"/>
<rect x="1169" y="462" width="1" height="1" fill="#000"/>
<rect x="1169" y="503" width="1" height="1" fill="#000"/>
<text x="1172" y="472" font-size="10" fill="#000" textLength="14.5" lengthAdjust="spacingAndGlyphs" stroke="#000" stroke-width="0.15">100</text>
<text x="1172" y="478" font-size="10" fill="#000" textLength="9.5" lengthAdjust="spacingAndGlyphs" stroke="#000" stroke-width="0.15">70</text>
<text x="1172" y="495" font-size="10" fill="#000" textLength="9.5" lengthAdjust="spacingAndGlyphs" stroke="#000" stroke-width="0.15">30</text>
<text x="1172" y="502" font-size="10" fill="#000" stroke="#000" stroke-width="0.15">0</text>
<rect x="6" y="505" width="1" height="2" fill="#000"/>
<text x="5.7" y="518" font-size="10" fill="#000" textLength="52.3" lengthAdjust="spacingAndGlyphs" stroke="#000" stroke-width="0.15">17 Nov 2021</text>
<rect x="70" y="505" width="1" height="2" fill="#000"/>
<text x="69.7" y="518" font-size="10" fill="#000" textLength="45.4" lengthAdjust="spacingAndGlyphs" stroke="#000" stroke-width="0.15">6 Dec 2021</text>
<rect x="134" y="505" width="1" height="2" fill="#000"/>
<text x="133.7" y="518" font-size="10" fill="#000" textLength="50.2" lengthAdjust="spacingAndGlyphs" stroke="#000" stroke-width="0.15">24 Dec 2021</text>
<rect x="198" y="505" width="1" height="2" fill="#000"/>
<text x="197.7" y="518" font-size="10" fill="#000" textLength="49.5" lengthAdjust="spacingAndGlyphs" stroke="#000" stroke-width="0.15">12 Jan 2022</text>
<rect x="262" y="505" width="1" height="2" fill="#000"/>
<text x="261.7" y="518" font-size="10" fill="#000" textLength="49.5" lengthAdjust="spacingAndGlyphs" stroke="#000" stroke-width="0.15">31 Jan 2022</text>
<rect x="326" y="505" width="1" height="2" fill="#000"/>
<text x="325.7" y="518" font-size="10" fill="#000" textLength="51.2" lengthAdjust="spacingAndGlyphs" stroke="#000" stroke-width="0.15">18 Feb 2022</text>
<rect x="390" y="505" width="1" height="2" fill="#000"/>
<text x="389.7" y="518" font-size="10" fill="#000" textLength="46" lengthAdjust="spacingAndGlyphs" stroke="#000" stroke-width="0.15">9 Mar 2022</text>
<rect x="454" y="505" width="1" height="2" fill="#000"/>
<text x="453.7" y="518" font-size="10" fill="#000" textLength="51.2" lengthAdjust="spacingAndGlyphs" stroke="#000" stroke-width="0.15">28 Mar 2022</text>
<rect x="518" y="505" width="1" height="2" fill="#000"/>
<text x="517.7" y="518" font-size="10" fill="#000" textLength="50.6" lengthAdjust="spacingAndGlyphs" stroke="#000" stroke-width="0.15">15 Apr 2022</text>
<rect x="582" y="505" width="1" height="2" fill="#000"/>
<text x="581.7" y="518" font-size="10" fill="#000" textLength="48.5" lengthAdjust="spacingAndGlyphs" stroke="#000" stroke-width="0.15">4 May 2022</text>
<rect x="646" y="505" width="1" height="2" fill="#000"/>
<text x="645.7" y="518" font-size="10" fill="#000" textLength="54.5" lengthAdjust="spacingAndGlyphs" stroke="#000" stroke-width="0.15">23 May 2022</text>
<rect x="710" y="505" width="1" height="2" fill="#000"/>
<text x="709.7" y="518" font-size="10" fill="#000" textLength="48.9" lengthAdjust="spacingAndGlyphs" stroke="#000" stroke-width="0.15">10 Jun 2022</text>
<rect x="774" y="505" width="1" height="2" fill="#000"/>
<text x="773.7" y="518" font-size="10" fill="#000" textLength="49.5" lengthAdjust="spacingAndGlyphs" stroke="#000" stroke-width="0.15">29 Jun 2022</text>
<rect x="838" y="505" width="1" height="2" fill="#000"/>
<text x="837.7" y="518" font-size="10" fill="#000" textLength="45.8" lengthAdjust="spacingAndGlyphs" stroke="#000" stroke-width="0.15">18 Jul 2022</text>
<rect x="902" y="505" width="1" height="2" fill="#000"/>
<text x="901.7" y="518" font-size="10" fill="#000" textLength="46.9" lengthAdjust="spacingAndGlyphs" stroke="#000" stroke-width="0.15">5 Aug 2022</text>
<rect x="3" y="525" width="1208" height="1" fill="#e3e3e3"/>
<rect x="0" y="528" width="1211" height="19" fill="#f0f0f0"/>
<rect x="1" y="527" width="1210" height="1" fill="#000"/>
<rect x="0" y="547" width="1211" height="2" fill="#fafafa"/>
<rect x="0" y="545" width="3" height="1" fill="#696969"/>
<rect x="1" y="528" width="1" height="18" fill="#a0a0a0"/>
<rect x="2" y="528" width="1" height="18" fill="#696969"/>
<rect x="324" y="526" width="107" height="20" fill="#fff"/>
<rect x="324" y="527" width="1" height="19" fill="#000"/>
<rect x="430" y="527" width="1" height="19" fill="#000"/>
<rect x="324" y="545" width="107" height="1" fill="#000"/>
<text x="18.6" y="542" font-size="12.5" fill="#6e6e6e" textLength="76.8" lengthAdjust="spacingAndGlyphs">USDX,Weekly</text>
<text x="118.4" y="542" font-size="12.5" fill="#6e6e6e" textLength="84.7" lengthAdjust="spacingAndGlyphs">EURUSD-,Daily</text>
<text x="225" y="542" font-size="12.5" fill="#6e6e6e" textLength="86.4" lengthAdjust="spacingAndGlyphs">AUDUSD-,Daily</text>
<text x="442.8" y="542" font-size="12.5" fill="#6e6e6e" textLength="85.0" lengthAdjust="spacingAndGlyphs">USDCAD-,Daily</text>
<text x="551.3" y="542" font-size="12.5" fill="#6e6e6e" textLength="87.4" lengthAdjust="spacingAndGlyphs">USDCNH-,Daily</text>
<text x="662.3" y="542" font-size="12.5" fill="#6e6e6e" textLength="85.5" lengthAdjust="spacingAndGlyphs">XAUUSD-,Daily</text>
<text x="770.5" y="542" font-size="12.5" fill="#6e6e6e" textLength="55.8" lengthAdjust="spacingAndGlyphs">UKOil-,H4</text>
<text x="851.3" y="542" font-size="12.5" fill="#6e6e6e" textLength="67.4" lengthAdjust="spacingAndGlyphs">USOil-,Daily</text>
<text x="941.2" y="542" font-size="12.5" fill="#6e6e6e" textLength="54.0" lengthAdjust="spacingAndGlyphs">HK50-,H1</text>
<text x="1017.5" y="542" font-size="12.5" fill="#6e6e6e" textLength="69.9" lengthAdjust="spacingAndGlyphs">EURCHF-,H1</text>
<text x="1111.2" y="542" font-size="12.5" fill="#6e6e6e" textLength="54.9" lengthAdjust="spacingAndGlyphs">USOil-,H4</text>
<text x="335.3" y="542" font-size="12.5" fill="#000" textLength="83.4" lengthAdjust="spacingAndGlyphs">USDCHF-,Daily</text>
<rect x="107" y="531" width="1" height="13" fill="#6e6e6e"/>
<rect x="215" y="531" width="1" height="13" fill="#6e6e6e"/>
<rect x="539" y="531" width="1" height="13" fill="#6e6e6e"/>
<rect x="651" y="531" width="1" height="13" fill="#6e6e6e"/>
<rect x="759" y="531" width="1" height="13" fill="#6e6e6e"/>
<rect x="839" y="531" width="1" height="13" fill="#6e6e6e"/>
<rect x="932" y="531" width="1" height="13" fill="#6e6e6e"/>
<rect x="1007" y="531" width="1" height="13" fill="#6e6e6e"/>
<rect x="1099" y="531" width="1" height="13" fill="#6e6e6e"/>
<polygon points="1187,533 1187,540 1183.5,536.5" fill="#a0a0a0" shape-rendering="auto"/>
<polygon points="1203,533 1203,540 1206.5,536.5" fill="#000" shape-rendering="auto"/>
</svg>
</body></html>
